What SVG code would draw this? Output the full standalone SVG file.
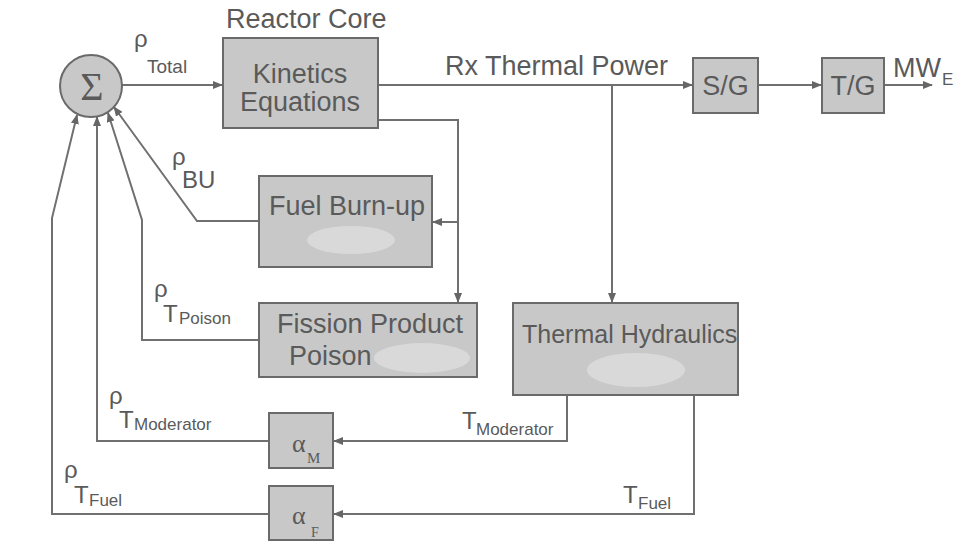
<svg xmlns="http://www.w3.org/2000/svg" width="962" height="546" viewBox="0 0 962 546">
<style>
.box{fill:#c8c8c8;stroke:#6a6a6a;stroke-width:2}
.blob{fill:#d9d9d9}
.ln{fill:none;stroke:#707070;stroke-width:2}
.t{font-family:"Liberation Sans",Arial,sans-serif;fill:#5a5a5a}
.big{font-size:27px}
.lab{font-size:24px}
.sub{font-size:17px}
.g{font-family:"Liberation Serif","Times New Roman",serif;fill:#5a5a5a}
</style>
<defs>
<marker id="ah" markerWidth="10" markerHeight="8" refX="9" refY="4" orient="auto" markerUnits="userSpaceOnUse">
<path d="M0,0 L10,4 L0,8 Z" fill="#666"/>
</marker>
</defs>
<rect width="962" height="546" fill="#fff"/>
<g id="connectors">
<path class="ln" d="M122,85 H222" marker-end="url(#ah)"/>
<path class="ln" d="M378,85 H692" marker-end="url(#ah)"/>
<path class="ln" d="M758,85 H821" marker-end="url(#ah)"/>
<path class="ln" d="M884,85 H932" marker-end="url(#ah)"/>
<path class="ln" d="M612,85 V302" marker-end="url(#ah)"/>
<path class="ln" d="M378,120 H458 V302" marker-end="url(#ah)"/>
<path class="ln" d="M458,222 H433" marker-end="url(#ah)"/>
<path class="ln" d="M567,395 V441 H334" marker-end="url(#ah)"/>
<path class="ln" d="M694,395 V514 H334" marker-end="url(#ah)"/>
<path class="ln" d="M269,441 H97 V117" marker-end="url(#ah)"/>
<path class="ln" d="M269,514 H52 V218 L77,115" marker-end="url(#ah)"/>
<path class="ln" d="M259,221 H197 L114,107" marker-end="url(#ah)"/>
<path class="ln" d="M259,340 H142 V220 L108,113" marker-end="url(#ah)"/>
</g>
<g id="sum">
<circle cx="91" cy="86" r="31" class="box"/>
<text x="92" y="100" class="g" font-size="40" text-anchor="middle">Σ</text>
</g>
<g id="reactor-core-label">
<text x="226" y="28" class="t big">Reactor Core</text>
</g>
<g id="kinetics">
<rect x="223" y="38" width="155" height="90" class="box"/>
<text x="300" y="83" class="t big" text-anchor="middle">Kinetics</text>
<text x="300" y="111" class="t big" text-anchor="middle">Equations</text>
</g>
<g id="fuel-burnup">
<rect x="259" y="176" width="173" height="91" class="box"/>
<ellipse cx="351" cy="240" rx="44" ry="14" class="blob"/>
<text x="269" y="215" class="t big">Fuel Burn-up</text>
</g>
<g id="fission-poison">
<rect x="259" y="303" width="218" height="74" class="box"/>
<ellipse cx="422" cy="358" rx="48" ry="15" class="blob"/>
<text x="277" y="333" class="t big">Fission Product</text>
<text x="289" y="365" class="t big">Poison</text>
</g>
<g id="thermal-hydraulics">
<rect x="513" y="303" width="225" height="92" class="box"/>
<ellipse cx="636" cy="370" rx="49" ry="17" class="blob"/>
<text x="522" y="343" font-size="25" class="t">Thermal Hydraulics</text>
</g>
<g id="sg">
<rect x="693" y="58" width="65" height="55" class="box"/>
<text x="725.5" y="95" class="t big" text-anchor="middle">S/G</text>
</g>
<g id="tg">
<rect x="822" y="58" width="62" height="55" class="box"/>
<text x="853" y="95" class="t big" text-anchor="middle">T/G</text>
</g>
<g id="alpha-m">
<rect x="269" y="413" width="64" height="55" class="box"/>
<text x="292" y="452" class="g" font-size="26">α</text>
<text x="307" y="463" class="g" font-size="15">M</text>
</g>
<g id="alpha-f">
<rect x="269" y="486" width="64" height="54" class="box"/>
<text x="292" y="524" class="g" font-size="26">α</text>
<text x="311" y="537" class="g" font-size="14">F</text>
</g>
<g id="labels">
<text x="445" y="75" class="t big">Rx Thermal Power</text>
<text x="893" y="77" class="t big">MW</text>
<text x="942" y="85" class="t sub">E</text>
<text x="134" y="47" class="t lab">ρ</text>
<text x="147" y="73" font-size="19" class="t">Total</text>
<text x="172" y="165" class="t lab">ρ</text>
<text x="182" y="188" class="t lab">BU</text>
<text x="154" y="297" class="t lab">ρ</text>
<text x="163" y="322" class="t lab">T</text>
<text x="179" y="324" class="t sub">Poison</text>
<text x="109" y="404" class="t lab">ρ</text>
<text x="119" y="428" class="t lab">T</text>
<text x="134" y="430" class="t sub">Moderator</text>
<text x="64" y="478" class="t lab">ρ</text>
<text x="74" y="503" class="t lab">T</text>
<text x="89" y="506" class="t sub">Fuel</text>
<text x="462" y="429" class="t lab">T</text>
<text x="476" y="435" class="t sub">Moderator</text>
<text x="623" y="503" class="t lab">T</text>
<text x="638" y="509" class="t sub">Fuel</text>
</g>
</svg>
